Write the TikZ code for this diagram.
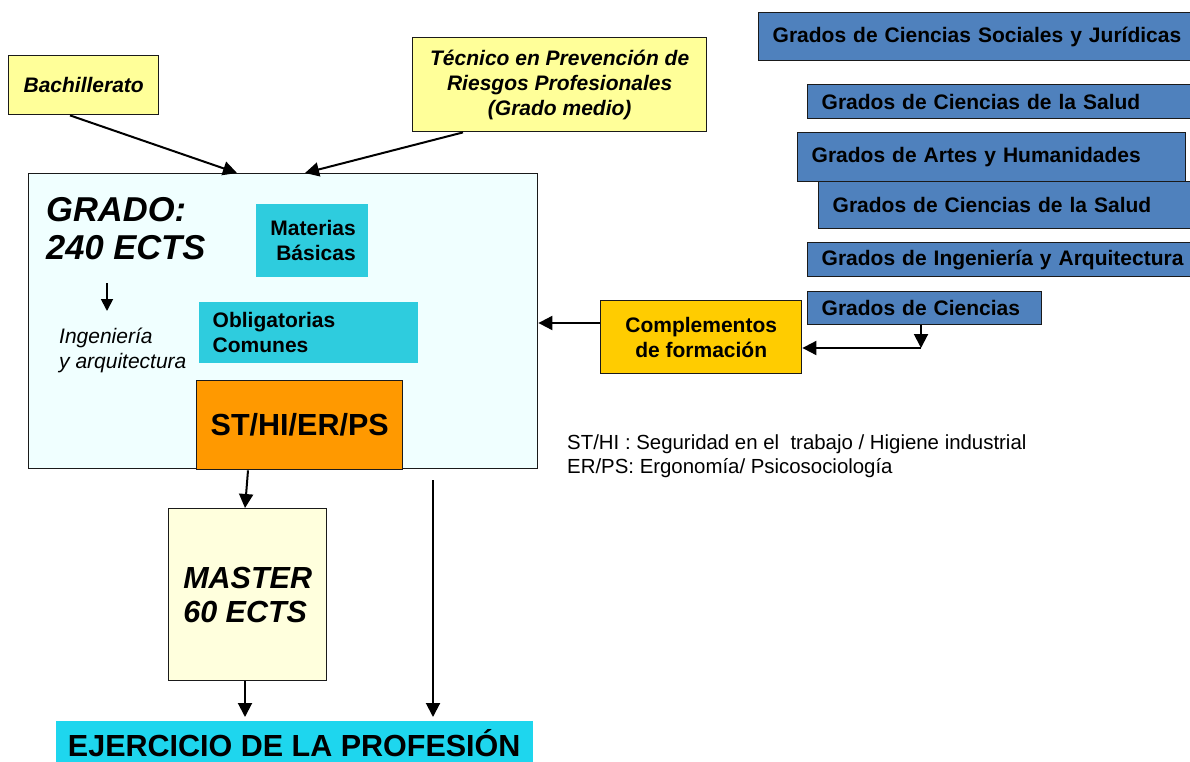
\documentclass[tikz,border=0pt]{standalone}
\usepackage{fontspec}
\setmainfont{Liberation Sans}
\usetikzlibrary{arrows.meta,calc}
\definecolor{yel}{HTML}{FFFF99}
\definecolor{blu}{HTML}{4F81BD}
\definecolor{azu}{HTML}{F0FFFF}
\definecolor{tur}{HTML}{2ECCDE}
\definecolor{org}{HTML}{FF9900}
\definecolor{gld}{HTML}{FFCC00}
\definecolor{lyl}{HTML}{FFFFDD}
\definecolor{cyn}{HTML}{1ED6EE}
\definecolor{edge}{HTML}{1A1A1A}
\newcommand{\fsN}{\fontsize{21}{25}\selectfont}
\newcommand{\fsL}{\fontsize{30.5}{34}\selectfont}
\newcommand{\fsG}{\fontsize{34.5}{38}\selectfont}
\newcommand{\fsS}{\fontsize{20.4}{24}\selectfont}
\begin{document}
\begin{tikzpicture}[x=1pt,y=-1pt,
  box/.style={draw=edge, line width=1.4pt, inner sep=0pt, anchor=north west},
  sz/.style 2 args={minimum width=#1, minimum height=#2},
  bluebox/.style={box, fill=blu, font=\fsN\bfseries, align=left, inner xsep=14pt},
  yelbox/.style={box, fill=yel, font=\fsN\bfseries\itshape, align=center},
  turbox/.style={box, draw=none, fill=tur, font=\fsN\bfseries},
  arr/.style={line width=2pt, -{Triangle[length=14pt,width=14pt]}},
  arrs/.style={line width=1.8pt, -{Triangle[length=12pt,width=12pt]}},
]
\useasboundingbox (0,0) rectangle (1190,762);

% blue boxes
\node[bluebox, sz={432pt}{48pt}, text width=404pt] (g1) at (758,12) {\mbox{Grados de Ciencias Sociales y Jurídicas}};
\node[bluebox, sz={383pt}{34pt}, text width=355pt] (g2) at (807,84) {\mbox{Grados de Ciencias de la Salud}};
\node[bluebox, sz={388pt}{49pt}, text width=360pt] (g3) at (797,132) {\mbox{Grados de Artes y Humanidades}};
\node[bluebox, sz={372pt}{47pt}, text width=344pt] (g4) at (818,181) {\mbox{Grados de Ciencias de la Salud}};
\node[bluebox, sz={383pt}{34pt}, text width=355pt] (g5) at (807,242) {\mbox{Grados de Ingeniería y Arquitectura}};
\node[bluebox, sz={234pt}{33pt}, text width=206pt] (cien) at (807,291) {\mbox{Grados de Ciencias}};

% yellow boxes
\node[yelbox, sz={150pt}{59pt}] (bach) at (8,55) {Bachillerato};
\node[yelbox, sz={294pt}{94pt}] (tec) at (412,37) {Técnico en Prevención de\\Riesgos Profesionales\\(Grado medio)};

% grado box
\node[box, fill=azu, sz={509pt}{295pt}] (grado) at (28,173) {};
\node[anchor=west, align=left, inner sep=0pt, font=\fsG\bfseries\itshape] (gtxt) at (46,229) {GRADO:\\240 ECTS};
\node[anchor=west, align=left, inner sep=0pt, font=\fsN\itshape] (ing) at (59,350) {Ingeniería\\y arquitectura};
\node[turbox, sz={112pt}{73pt}, align=right, inner xsep=12pt, text width=88pt] (mat) at (255,203) {Materias\\Básicas};
\node[turbox, sz={219pt}{61pt}, align=left, inner xsep=14pt, text width=191pt] (obl) at (198,301) {Obligatorias\\Comunes};
\node[box, fill=org, sz={206pt}{89pt}, font=\fsL\bfseries] (st) at (196,380) {ST/HI/ER/PS};

% complementos
\node[box, fill=gld, sz={201pt}{73pt}, font=\fsN\bfseries, align=center] (comp) at (600,300) {Complementos\\de formación};

% master and ejercicio
\node[box, fill=lyl, sz={158pt}{172pt}, font=\fsL\bfseries\itshape, align=left] (master) at (168,508) {MASTER\\60 ECTS};
\node[box, draw=none, fill=cyn, sz={477pt}{44pt}, font=\fsL\bfseries] (ejer) at (55,720) {EJERCICIO DE LA PROFESIÓN};

% legend
\node[anchor=west, align=left, inner sep=0pt, font=\fsS] (leg) at (567,456) {ST/HI : Seguridad en el \ trabajo / Higiene industrial\\ER/PS: Ergonomía/ Psicosociología};

% connectors
\draw[arr] ($(bach.south west)+(62,0)$) -- ($(grado.north west)+(209,0)$);
\draw[arr] ($(tec.south west)+(51,0)$) -- ($(grado.north west)+(277,0)$);
\draw[arr] ($(comp.north west)+(0,23)$) -- ($(grado.north east)+(0,150)$);
\coordinate (elb) at (921,348);
\draw[arr] ($(cien.south west)+(114,0)$) -- (elb);
\draw[arr] (elb) -- (comp.east |- elb);
\draw[arrs] ($(grado.north west)+(79,110)$) -- ($(grado.north west)+(79,138)$);
\draw[arr] ($(st.south west)+(52,0)$) -- ($(master.north west)+(77,0)$);
\draw[arr] ($(master.south west)+(77,0)$) -- ($(ejer.north west)+(190,-3)$);
\coordinate (fs) at (433,480);
\draw[arr] (fs) -- ($(ejer.north west)+(378,-3)$);
\end{tikzpicture}
\end{document}
